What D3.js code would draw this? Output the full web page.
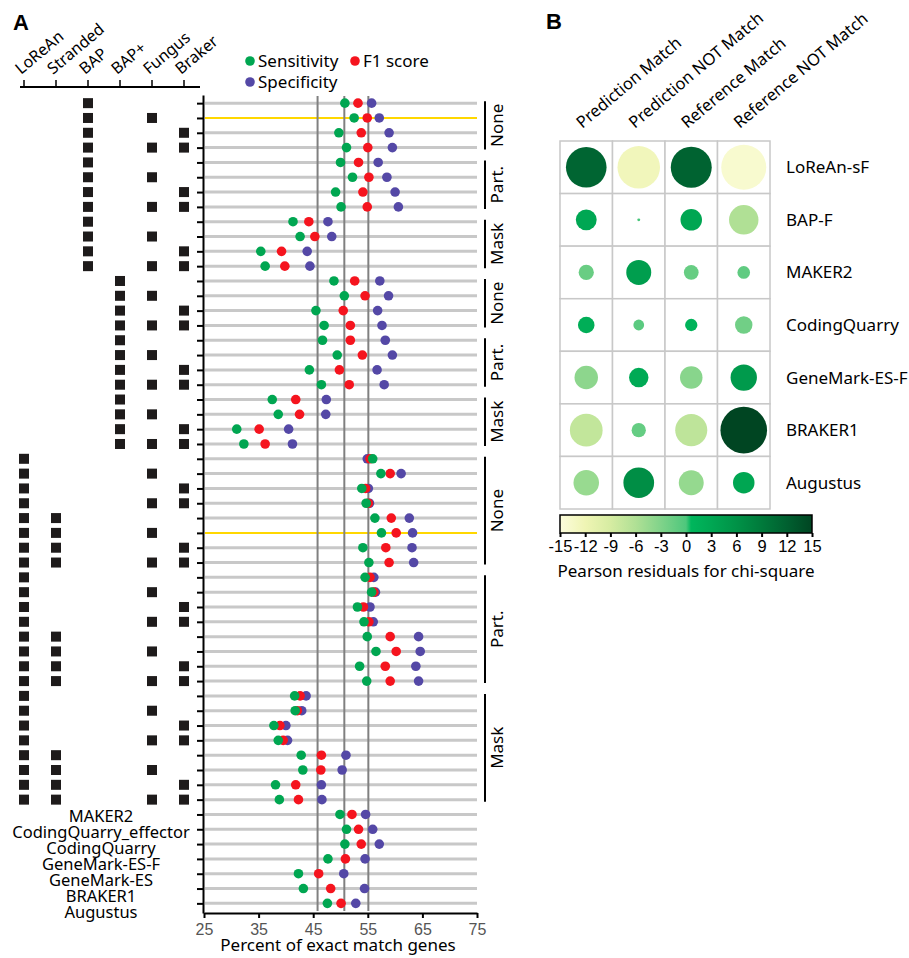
<!DOCTYPE html>
<meta charset="utf-8">
<style>
body { margin: 0; background: #fff; }
svg { font-family: "Noto Sans", "Open Sans", sans-serif; }
.panel-label { font: 700 22px "Liberation Sans", Arial, sans-serif; }
.row-line { stroke: #c8c8c8; stroke-width: 3px; }
.row-line--hi { stroke: #ffd700; stroke-width: 2px; }
.ref-line { stroke: #808080; stroke-width: 2px; }
.axis path, .axis line { stroke: #000; stroke-width: 2px; }
.axis text { font-size: 16px; fill: #555; }
.cell { fill: #fff; stroke: #c8c8c8; stroke-width: 1.5px; }
</style>
<svg width="909" height="958"></svg>
<script src="https://cdn.jsdelivr.net/npm/d3@7"></script>
<script>

// ---- data, panel A ----
var featureCols = ["LoReAn", "Stranded", "BAP", "BAP+", "Fungus", "Braker"];

// one flag string per run (LoReAn, Stranded, BAP, BAP+, Fungus, Braker)
var featureFlags = [
  "001000", "001010", "001001", "001011",
  "001000", "001010", "001001", "001011",
  "001000", "001010", "001001", "001011",
  "000100", "000110", "000101", "000111",
  "000100", "000110", "000101", "000111",
  "000100", "000110", "000101", "000111",
  "100000", "100010", "100001", "100011", "110000", "110010", "110001", "110011",
  "100000", "100010", "100001", "100011", "110000", "110010", "110001", "110011",
  "100000", "100010", "100001", "100011", "110000", "110010", "110001", "110011"
];

var toolNames = ["MAKER2", "CodingQuarry_effector", "CodingQuarry", "GeneMark-ES-F",
                 "GeneMark-ES", "BRAKER1", "Augustus"];

var sensitivity = [
  50.8, 52.5, 49.7, 51.1, 50.0, 52.2, 49.1, 50.1, 41.3, 42.6, 35.4, 36.2,
  48.8, 50.7, 45.5, 47.0, 46.7, 49.4, 44.3, 46.5, 37.5, 38.6, 31.0, 32.3,
  55.9, 57.4, 53.9, 54.7, 56.3, 57.5, 54.1, 55.2,
  54.5, 55.7, 53.1, 54.3, 54.9, 56.5, 53.5, 54.8,
  41.6, 41.7, 37.8, 38.6, 42.8, 43.1, 38.1, 38.8,
  49.9, 51.1, 50.8, 47.7, 42.3, 43.2, 47.6
];
var f1score = [
  53.2, 54.9, 53.8, 55.0, 53.3, 55.2, 54.1, 54.9, 44.2, 45.3, 39.2, 39.8,
  52.6, 54.5, 50.5, 51.8, 51.8, 54.0, 49.8, 51.6, 41.8, 42.5, 35.1, 36.2,
  55.4, 59.1, 54.6, 55.1, 59.3, 60.2, 58.3, 58.9,
  55.4, 56.1, 54.2, 55.2, 59.1, 60.2, 58.2, 59.1,
  42.6, 42.1, 38.9, 39.5, 46.5, 46.4, 41.8, 42.3,
  52.1, 53.3, 53.8, 50.9, 46.0, 48.2, 50.1
];
var specificity = [
  55.7, 57.1, 58.9, 59.5, 56.9, 58.5, 60.0, 60.6, 47.7, 48.4, 43.9, 44.4,
  57.2, 58.8, 56.8, 57.6, 58.2, 59.5, 56.7, 58.0, 47.4, 47.3, 40.5, 41.2,
  54.9, 61.1, 55.1, 55.3, 62.6, 63.2, 63.1, 63.4,
  56.1, 56.4, 55.4, 56.0, 64.3, 64.6, 63.8, 64.3,
  43.7, 42.9, 40.0, 40.3, 51.0, 50.3, 46.5, 46.6,
  54.6, 55.9, 57.1, 54.5, 50.6, 54.4, 52.8
];

var groupNames = ["None", "Part.", "Mask", "None", "Part.", "Mask", "None", "Part.", "Mask"];
var groupSizes = [4, 4, 4, 4, 4, 4, 8, 8, 8];
var highlightRows = [1, 29];
var refLines = [45.8, 50.7, 55.1];
var xTicks = [25, 35, 45, 55, 65, 75];

// ---- data, panel B ----
var residualRows = ["LoReAn-sF", "BAP-F", "MAKER2", "CodingQuarry", "GeneMark-ES-F", "BRAKER1", "Augustus"];
var residualCols = ["Prediction Match", "Prediction NOT Match", "Reference Match", "Reference NOT Match"];
var residuals = [
  [11.4, -12.5, 11.6, -14.0],
  [3.0, 0.06, 3.2, -6.0],
  [-1.6, 4.3, -1.5, -1.1],
  [1.9, -0.8, 1.05, -2.1],
  [-3.8, 2.6, -3.5, 4.8],
  [-7.4, -1.4, -7.1, 15.0],
  [-4.5, 6.5, -4.3, 3.2]
];
var colorTicks = [-15, -12, -9, -6, -3, 0, 3, 6, 9, 12, 15];

var svg = d3.select("svg");
var nRows = sensitivity.length;

// ---------------- panel A ----------------
svg.append("text").attr("class", "panel-label").attr("x", 13).attr("y", 30).text("A");

var x = d3.scaleLinear().domain([25, 75]).range([204, 477]);
var y = d3.scaleLinear().domain([-0.55, 54.65]).range([95, 913]);
var col = d3.scalePoint().domain(featureCols).range([24, 184]);

// feature header
var head = svg.append("g");
head.append("line").attr("x1", 20).attr("x2", 200).attr("y1", 87).attr("y2", 87)
    .attr("stroke", "#000").attr("stroke-width", 2);
head.selectAll(".htick").data(featureCols).enter().append("line")
    .attr("x1", function(d) { return col(d); }).attr("x2", function(d) { return col(d); })
    .attr("y1", 80).attr("y2", 87).attr("stroke", "#000").attr("stroke-width", 1.5);
head.selectAll(".hlab").data(featureCols).enter().append("text")
    .attr("transform", function(d) { return "translate(" + (col(d) - 3) + ",75) rotate(-40)"; })
    .style("font-size", "16px")
    .text(function(d) { return d; });

// feature squares
var sq = [];
featureFlags.forEach(function(f, i) {
  f.split("").forEach(function(c, j) { if (c === "1") sq.push({row: i, col: featureCols[j]}); });
});
svg.append("g").selectAll("rect").data(sq).enter().append("rect")
    .attr("x", function(d) { return col(d.col) - 5; })
    .attr("y", function(d) { return y(d.row) - 5; })
    .attr("width", 10).attr("height", 10).attr("fill", "#1e1b1b");

// tool labels, stacked tightly under the squares
svg.append("g").selectAll("text").data(toolNames).enter().append("text")
    .attr("x", 101).attr("y", function(d, i) { return 816 + i * 16.1; })
    .attr("dy", "0.35em").attr("text-anchor", "middle").style("font-size", "16.5px")
    .text(function(d) { return d; });

// row lines
var rows = d3.range(nRows);
svg.append("g").selectAll("line").data(rows).enter().append("line")
    .attr("class", function(d) { return highlightRows.indexOf(d) >= 0 ? "row-line row-line--hi" : "row-line"; })
    .attr("x1", x(25) + 1).attr("x2", x(75))
    .attr("y1", function(d) { return y(d); }).attr("y2", function(d) { return y(d); });

// reference lines
svg.append("g").selectAll("line").data(refLines).enter().append("line")
    .attr("class", "ref-line")
    .attr("x1", function(d) { return x(d); }).attr("x2", function(d) { return x(d); })
    .attr("y1", 96).attr("y2", 911);

// dots (green drawn last, on top)
var series = [
  {name: "Specificity", color: "#5448a6", values: specificity},
  {name: "F1 score", color: "#f5141e", values: f1score},
  {name: "Sensitivity", color: "#00a651", values: sensitivity}
];
series.forEach(function(s) {
  svg.append("g").selectAll("circle").data(s.values).enter().append("circle")
      .attr("cx", function(d) { return x(d); })
      .attr("cy", function(d, i) { return y(i); })
      .attr("r", 4.8).attr("fill", s.color);
});

// axes
svg.append("g").attr("class", "axis").attr("transform", "translate(203,0)")
    .call(d3.axisLeft(y).tickValues(rows).tickFormat("").tickSize(6).tickSizeOuter(0));
svg.append("g").attr("class", "axis").attr("transform", "translate(0,913)")
    .call(d3.axisBottom(x).tickValues(xTicks).tickSize(5).tickSizeOuter(0))
    .call(function(g) { g.selectAll("text").attr("dy", "0.85em"); });
svg.append("text").attr("x", 338).attr("y", 951).attr("text-anchor", "middle")
    .style("font-size", "17px").text("Percent of exact match genes");

// group brackets
var start = 0;
var groups = groupNames.map(function(n, i) {
  var g = {name: n, first: start, last: start + groupSizes[i] - 1};
  start += groupSizes[i];
  return g;
});
var br = svg.append("g").selectAll("g").data(groups).enter().append("g");
br.append("line")
    .attr("x1", 485).attr("x2", 485)
    .attr("y1", function(d) { return y(d.first) - 2; })
    .attr("y2", function(d) { return y(d.last) + 2; })
    .attr("stroke", "#000").attr("stroke-width", 2);
br.append("text")
    .attr("transform", function(d) { return "translate(503," + (y(d.first) + y(d.last)) / 2 + ") rotate(-90)"; })
    .attr("text-anchor", "middle").style("font-size", "17px")
    .text(function(d) { return d.name; });

// legend
var legend = [
  {name: "Sensitivity", color: "#00a651", x: 250, y: 61},
  {name: "F1 score", color: "#f5141e", x: 355, y: 61},
  {name: "Specificity", color: "#5448a6", x: 250, y: 82}
];
var lg = svg.append("g").selectAll("g").data(legend).enter().append("g")
    .attr("transform", function(d) { return "translate(" + d.x + "," + d.y + ")"; });
lg.append("circle").attr("r", 4.8).attr("fill", function(d) { return d.color; });
lg.append("text").attr("x", 8).attr("dy", "0.35em").style("font-size", "17px")
    .text(function(d) { return d.name; });

// ---------------- panel B ----------------
svg.append("text").attr("class", "panel-label").attr("x", 546).attr("y", 29).text("B");

var bx = d3.scaleBand().domain(residualCols).range([560, 770]);
var by = d3.scaleBand().domain(residualRows).range([141, 509]);
var rScale = d3.scaleSqrt().domain([0, 15]).range([0, 23.3]);
var color = d3.scaleLinear()
    .domain([-15, -12, -9, -6, -3, 0, 0.6, 3, 6, 9, 12, 15])
    .range(["#fcfcdc", "#eff5b4", "#d6eca2", "#b0e095", "#80d38a", "#4ec77c",
            "#00b65c", "#00a753", "#009247", "#007a3b", "#006030", "#004522"]);

var cells = [];
residuals.forEach(function(r, i) {
  r.forEach(function(v, j) { cells.push({row: residualRows[i], col: residualCols[j], v: v}); });
});
var pb = svg.append("g");
pb.selectAll("rect").data(cells).enter().append("rect")
    .attr("class", "cell")
    .attr("x", function(d) { return bx(d.col); }).attr("y", function(d) { return by(d.row); })
    .attr("width", bx.bandwidth()).attr("height", by.bandwidth());
pb.selectAll("circle").data(cells).enter().append("circle")
    .attr("cx", function(d) { return bx(d.col) + bx.bandwidth() / 2; })
    .attr("cy", function(d) { return by(d.row) + by.bandwidth() / 2; })
    .attr("r", function(d) { return rScale(Math.abs(d.v)); })
    .attr("fill", function(d) { return color(d.v); });

pb.selectAll(".rlab").data(residualRows).enter().append("text")
    .attr("x", 786).attr("y", function(d) { return by(d) + by.bandwidth() / 2; })
    .attr("dy", "0.35em").style("font-size", "17px")
    .text(function(d) { return d; });
pb.selectAll(".clab").data(residualCols).enter().append("text")
    .attr("transform", function(d) { return "translate(" + (bx(d) + bx.bandwidth() / 2 - 4) + ",129) rotate(-40)"; })
    .style("font-size", "16.5px")
    .text(function(d) { return d; });

// colour bar
var cbx = d3.scaleLinear().domain([-15, 15]).range([560, 812]);
var grad = svg.append("defs").append("linearGradient").attr("id", "cbar");
color.domain().forEach(function(v) {
  grad.append("stop").attr("offset", (v + 15) / 30).attr("stop-color", color(v));
});
svg.append("rect").attr("x", 560).attr("y", 515).attr("width", 252).attr("height", 18)
    .attr("fill", "url(#cbar)").attr("stroke", "#000").attr("stroke-width", 1.5);
svg.append("g").attr("class", "axis cbar-axis").attr("transform", "translate(0,533)")
    .call(d3.axisBottom(cbx).tickValues(colorTicks).tickSize(4).tickSizeOuter(0)
      .tickFormat(function(d) { return String(d); }))
    .call(function(g) {
      g.select(".domain").remove();
      g.selectAll("line").attr("stroke-width", 1.2);
      g.selectAll("text").style("fill", "#000").style("font-size", "16.5px").attr("dy", "0.7em");
    });
svg.append("text").attr("x", 686).attr("y", 577).attr("text-anchor", "middle")
    .style("font-size", "17px").text("Pearson residuals for chi-square");

</script>
